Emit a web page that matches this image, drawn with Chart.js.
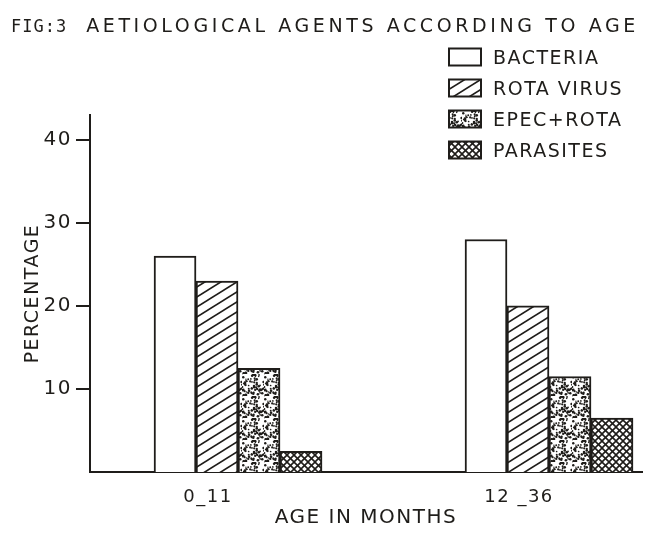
<!DOCTYPE html>
<html>
<head>
<meta charset="utf-8">
<title>Fig 3 - Aetiological agents according to age</title>
<script src="https://cdn.jsdelivr.net/npm/chart.js@4.4.1/dist/chart.umd.min.js"></script>
<style>
  html, body { margin: 0; padding: 0; background: #fff; }
  #wrap { position: relative; width: 650px; height: 538px; }
  #titulo {
    position: absolute; left: 11px; top: 14px; white-space: nowrap;
    color: #1f1d1a; font-family: "DejaVu Sans"; font-size: 19px; letter-spacing: 3.6px;
  }
  #titulo .fig { font-family: "DejaVu Sans Mono"; font-size: 17px; letter-spacing: 1px; margin-right: 19px; }
</style>
</head>
<body>
<div id="wrap">
  <canvas id="grafico" width="650" height="538"></canvas>
  <div id="titulo"><span class="fig">FIG:3</span>AETIOLOGICAL AGENTS ACCORDING TO AGE</div>
</div>
<script>
// datos (porcentaje por grupo de edad)
const AGES = ['0_11', '12 _36'];
const AGENTS = ['BACTERIA', 'ROTA VIRUS', 'EPEC+ROTA', 'PARASITES'];
const BACTERIA = [26, 28];
const ROTA_VIRUS = [23, 20];
const EPEC_ROTA = [12.5, 11.5];
const PARASITES = [2.5, 6.5];
const Y_TICKS = [10, 20, 30, 40];

const INK = '#1f1d1a';
const FONT = 'DejaVu Sans';

const canvas = document.getElementById('grafico');
const mainCtx = canvas.getContext('2d');

// crea un patron de relleno a partir de un pequeño lienzo
function patron(w, h, dibujar) {
  const tile = document.createElement('canvas');
  tile.width = w;
  tile.height = h;
  const g = tile.getContext('2d');
  g.fillStyle = '#fff';
  g.fillRect(0, 0, w, h);
  g.strokeStyle = INK;
  g.fillStyle = INK;
  dibujar(g, w, h);
  return mainCtx.createPattern(tile, 'repeat');
}

// lineas diagonales que cruzan el azulejo
function diagonales(g, w, h, sentido) {
  for (let k = -1; k <= 1; k++) {
    g.beginPath();
    if (sentido > 0) {
      g.moveTo(-w, 2 * h + k * h);
      g.lineTo(2 * w, -h + k * h);
    } else {
      g.moveTo(-w, -h + k * h);
      g.lineTo(2 * w, 2 * h + k * h);
    }
    g.stroke();
  }
}

const rellenoBlanco = '#ffffff';
const rellenoRayas = patron(16, 10, (g, w, h) => {
  g.lineWidth = 1.6;
  diagonales(g, w, h, 1);
});
const rellenoPuntos = patron(22, 22, (g, w, h) => {
  // moteado fijo (hash determinista) para imitar el punteado impreso
  for (let i = 0; i < 70; i++) {
    const px = Math.abs(Math.sin(i * 12.9898) * 43758.5453) % 1 * w;
    const py = Math.abs(Math.sin(i * 78.233) * 12345.6789) % 1 * h;
    const r = 0.6 + (Math.abs(Math.sin(i * 3.7)) % 1) * 0.7;
    g.beginPath();
    g.arc(px, py, r, 0, Math.PI * 2);
    g.fill();
  }
});
const rellenoCuadros = patron(7, 7, (g, w, h) => {
  g.lineWidth = 1.6;
  diagonales(g, w, h, 1);
  diagonales(g, w, h, -1);
});

function serie(valores) {
  return valores.map((v, i) => ({ x: i, y: v }));
}

// leyenda dibujada a mano dentro del area del grafico
const leyenda = {
  id: 'leyenda',
  afterDraw(chart, args, opts) {
    const ctx = chart.ctx;
    ctx.save();
    ctx.font = opts.size + 'px "' + FONT + '"';
    ctx.letterSpacing = opts.spacing;
    ctx.textBaseline = 'middle';
    chart.data.datasets.forEach((ds, i) => {
      const y = opts.top + i * opts.row;
      ctx.fillStyle = ds.backgroundColor;
      ctx.fillRect(opts.left, y - opts.boxH / 2, opts.boxW, opts.boxH);
      ctx.lineWidth = 2;
      ctx.strokeStyle = INK;
      ctx.strokeRect(opts.left, y - opts.boxH / 2, opts.boxW, opts.boxH);
      ctx.fillStyle = INK;
      ctx.fillText(ds.label, opts.left + opts.boxW + opts.gap, y + 2);
    });
    ctx.restore();
  }
};

// espaciado de letras como en el rotulado original
const espaciado = {
  id: 'espaciado',
  beforeLayout(chart) { chart.ctx.letterSpacing = '1.5px'; },
  beforeDraw(chart) { chart.ctx.letterSpacing = '1.5px'; }
};

const barra = (label, data, fondo) => ({
  label: label,
  data: serie(data),
  backgroundColor: fondo,
  borderColor: INK,
  borderWidth: 2,
  barThickness: 42
});

new Chart(canvas, {
  type: 'bar',
  data: {
    datasets: [
      barra(AGENTS[0], BACTERIA, rellenoBlanco),
      barra(AGENTS[1], ROTA_VIRUS, rellenoRayas),
      barra(AGENTS[2], EPEC_ROTA, rellenoPuntos),
      barra(AGENTS[3], PARASITES, rellenoCuadros)
    ]
  },
  options: {
    responsive: false,
    animation: false,
    layout: { padding: { top: 115, right: 8, left: 0, bottom: 0 } },
    plugins: {
      legend: { display: false },
      tooltip: { enabled: false },
      leyenda: { left: 449, top: 57, row: 31, boxW: 32, boxH: 17, gap: 12, size: 19, spacing: '1.5px' }
    },
    scales: {
      x: {
        type: 'linear',
        offset: false,
        min: -0.476,
        max: 1.299,
        afterBuildTicks: s => { s.ticks = AGES.map((_, i) => ({ value: i })); },
        afterFit: s => { s.height = 66; },
        border: { color: INK, width: 2 },
        grid: { drawOnChartArea: false, drawTicks: false },
        ticks: {
          callback: v => AGES[v],
          labelOffset: -30,
          padding: 15,
          maxRotation: 0,
          autoSkip: false,
          color: INK,
          font: { family: FONT, size: 18 }
        },
        title: {
          display: true,
          text: 'AGE IN MONTHS',
          color: INK,
          padding: { top: 0, bottom: 8 },
          font: { family: FONT, size: 20 }
        }
      },
      y: {
        min: 0,
        max: 43,
        afterBuildTicks: s => { s.ticks = Y_TICKS.map(v => ({ value: v })); },
        afterFit: s => { s.width = 90; },
        border: { color: INK, width: 2 },
        grid: { drawOnChartArea: false, tickLength: 14, color: INK, lineWidth: 2 },
        ticks: { color: INK, padding: 4, font: { family: FONT, size: 20 } },
        title: {
          display: true,
          text: 'PERCENTAGE',
          color: INK,
          padding: { top: 22, bottom: 0 },
          font: { family: FONT, size: 19 }
        }
      }
    }
  },
  plugins: [espaciado, leyenda]
});
</script>
</body>
</html>
